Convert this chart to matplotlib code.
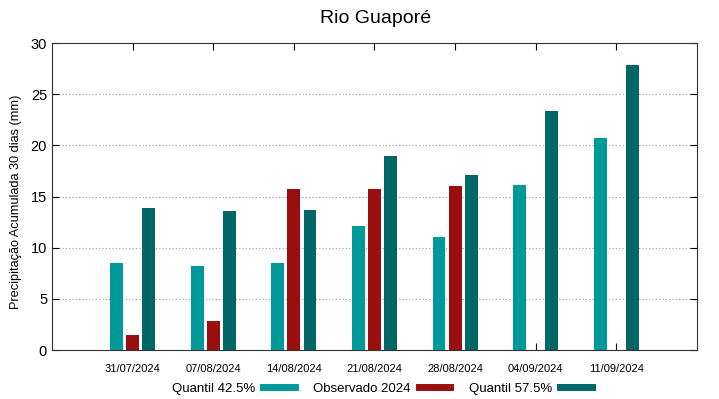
import numpy as np
import matplotlib
matplotlib.use('Agg')
import matplotlib.pyplot as plt
from matplotlib.lines import Line2D

plt.rcParams['font.family'] = ['Liberation Sans', 'DejaVu Sans']

# Data
dates = ['31/07/2024', '07/08/2024', '14/08/2024', '21/08/2024',
         '28/08/2024', '04/09/2024', '11/09/2024']
q425 = [8.5, 8.2, 8.5, 12.1, 11.0, 16.1, 20.7]
observado = [1.5, 2.8, 15.7, 15.7, 16.0, np.nan, np.nan]
q575 = [13.9, 13.6, 13.7, 19.0, 17.1, 23.4, 27.9]

c_q425 = '#009999'
c_obs = '#990e0e'
c_q575 = '#006666'

fig = plt.figure(figsize=(7.19, 3.99), dpi=100)
ax = fig.add_axes([0.0723, 0.1228, 0.8971, 0.7692])

x = np.arange(len(dates))
w = 0.16
off = 0.2
ax.bar(x - off, q425, w, color=c_q425, zorder=3)
ax.bar(x, observado, w, color=c_obs, zorder=3)
ax.bar(x + off, q575, w, color=c_q575, zorder=3)

ax.set_xlim(-1, len(dates))
ax.set_ylim(0, 30)
ax.set_yticks(np.arange(0, 31, 5))
ax.set_xticks(x)
ax.set_xticklabels(dates, fontsize=8)
ax.tick_params(axis='x', direction='in', top=True, pad=10, length=5)
ax.tick_params(axis='y', direction='in', right=True, labelsize=10.5, length=5)
ax.grid(axis='y', linestyle=(0, (1, 2)), color='#999999', linewidth=0.8, zorder=0)
for s in ax.spines.values():
    s.set_color('#333333')

ax.set_ylabel('Precipitação Acumulada 30 dias (mm)', fontsize=9.2, va='center')
ax.yaxis.set_label_coords(-0.056, 0.484)
fig.suptitle('Rio Guaporé', fontsize=14, y=0.975, x=0.522)

handles = [Line2D([], [], color=c, lw=5) for c in (c_q425, c_obs, c_q575)]
labels = ['Quantil 42.5%', 'Observado 2024', 'Quantil 57.5%']
fig.legend(handles, labels, loc='lower center', bbox_to_anchor=(0.531, -0.02),
           ncol=3, frameon=False, markerfirst=False, fontsize=9.5,
           handlelength=2.4, columnspacing=1.4, handletextpad=0.6)

fig.savefig('out.png', dpi=100)
